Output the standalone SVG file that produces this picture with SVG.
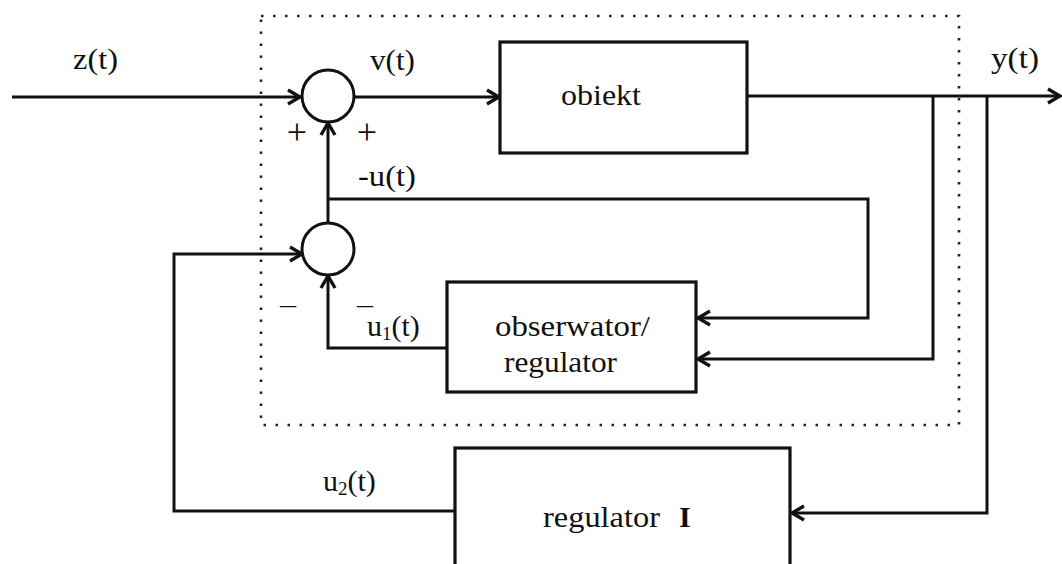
<svg xmlns="http://www.w3.org/2000/svg" width="1062" height="564" viewBox="0 0 1062 564">
<style>
.ln{fill:none;stroke:#111;stroke-width:3;stroke-linejoin:miter}
.bx{fill:none;stroke:#111;stroke-width:3.2}
.dot{fill:none;stroke:#222;stroke-width:2.6;stroke-dasharray:2.5 9.5}
.t{font-family:"Liberation Serif","Times New Roman",serif;font-size:30px;fill:#111}
.s{font-family:"Liberation Serif","Times New Roman",serif;font-size:26px;fill:#111}
.p{font-family:"Liberation Serif","Times New Roman",serif;font-size:36px;fill:#111}
</style>
<defs>
<marker id="ah" markerUnits="userSpaceOnUse" viewBox="-15 -9 17 18" refX="0" refY="0" markerWidth="17" markerHeight="18" orient="auto">
<path d="M-12,-7 L0,0 L-12,7" fill="none" stroke="#111" stroke-width="3.4"/>
</marker>
</defs>
<rect width="1062" height="564" fill="#fff"/>
<rect id="boundary" class="dot" x="261" y="16" width="698" height="409"/>
<g id="connectors">
<path class="ln" d="M12,97 L300,97" marker-end="url(#ah)"/>
<path class="ln" d="M354,97 L499,97" marker-end="url(#ah)"/>
<path class="ln" d="M747,96 L1060,96" marker-end="url(#ah)"/>
<path class="ln" d="M328,223 L328,123" marker-end="url(#ah)"/>
<path class="ln" d="M328,199 L868,199 L868,318 L698,318" marker-end="url(#ah)"/>
<path class="ln" d="M933,96 L933,359 L698,359" marker-end="url(#ah)"/>
<path class="ln" d="M987,96 L987,513 L792,513" marker-end="url(#ah)"/>
<path class="ln" d="M455,511 L174,511 L174,254 L302,254" marker-end="url(#ah)"/>
<path class="ln" d="M447,348 L328,348 L328,276" marker-end="url(#ah)"/>
</g>
<g id="sum1"><circle class="ln" cx="328" cy="96" r="26"/></g>
<g id="sum2"><circle class="ln" cx="328" cy="249" r="26"/></g>
<g id="obiekt">
<rect class="bx" x="500" y="42" width="247" height="111"/>
<text class="t" x="561" y="105" textLength="80" lengthAdjust="spacingAndGlyphs">obiekt</text>
</g>
<g id="obserwator">
<rect class="bx" x="447" y="282" width="249" height="110"/>
<text class="t" x="495" y="336" textLength="155" lengthAdjust="spacingAndGlyphs">obserwator/</text>
<text class="t" x="504" y="372" textLength="113" lengthAdjust="spacingAndGlyphs">regulator</text>
</g>
<g id="regulatorI">
<rect class="bx" x="455" y="448" width="335" height="140"/>
<text class="t" x="543" y="527" textLength="117" lengthAdjust="spacingAndGlyphs">regulator</text>
<text class="t" x="679" y="527" font-weight="bold">I</text>
</g>
<g id="labels">
<text class="t" x="73" y="69" textLength="45" lengthAdjust="spacingAndGlyphs">z(t)</text>
<text class="t" x="370" y="70" textLength="45" lengthAdjust="spacingAndGlyphs">v(t)</text>
<text class="t" x="991" y="68" textLength="48" lengthAdjust="spacingAndGlyphs">y(t)</text>
<text class="p" x="297" y="144" text-anchor="middle">+</text>
<text class="p" x="367" y="144" text-anchor="middle">+</text>
<text class="t" x="358" y="186" textLength="58" lengthAdjust="spacingAndGlyphs">-u(t)</text>
<text class="s" x="288" y="313" text-anchor="middle" textLength="16" lengthAdjust="spacingAndGlyphs">–</text>
<text class="s" x="365" y="313" text-anchor="middle" textLength="16" lengthAdjust="spacingAndGlyphs">–</text>
<text class="t" x="367" y="336">u<tspan font-size="19" dy="4">1</tspan><tspan dy="-4">(t)</tspan></text>
<text class="t" x="323" y="491">u<tspan font-size="19" dy="4">2</tspan><tspan dy="-4">(t)</tspan></text>
</g>
</svg>
